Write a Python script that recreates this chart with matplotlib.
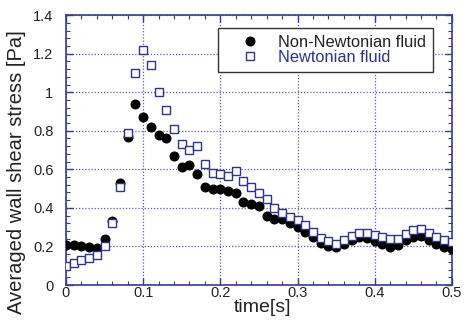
import matplotlib
matplotlib.use("Agg")
import matplotlib.pyplot as plt
from matplotlib.ticker import MultipleLocator
import numpy as np

plt.rcParams['font.family'] = ['Liberation Sans', 'DejaVu Sans']

time = [0.00, 0.01, 0.02, 0.03, 0.04, 0.05, 0.06, 0.07, 0.08, 0.09,
        0.10, 0.11, 0.12, 0.13, 0.14, 0.15, 0.16, 0.17, 0.18, 0.19,
        0.20, 0.21, 0.22, 0.23, 0.24, 0.25, 0.26, 0.27, 0.28, 0.29,
        0.30, 0.31, 0.32, 0.33, 0.34, 0.35, 0.36, 0.37, 0.38, 0.39,
        0.40, 0.41, 0.42, 0.43, 0.44, 0.45, 0.46, 0.47, 0.48, 0.49, 0.50]

non_newtonian = [0.21, 0.21, 0.205, 0.195, 0.19, 0.24, 0.33, 0.53, 0.77, 0.94,
                 0.87, 0.82, 0.78, 0.76, 0.67, 0.61, 0.62, 0.575, 0.51, 0.50,
                 0.50, 0.49, 0.475, 0.43, 0.42, 0.41, 0.36, 0.34, 0.34, 0.32,
                 0.30, 0.276, 0.25, 0.216, 0.205, 0.195, 0.212, 0.233, 0.247, 0.242,
                 0.23, 0.212, 0.195, 0.207, 0.233, 0.247, 0.254, 0.233, 0.212, 0.198, 0.185]

newtonian = [0.098, 0.112, 0.13, 0.138, 0.155, 0.20, 0.32, 0.51, 0.79, 1.10,
             1.22, 1.14, 1.00, 0.91, 0.81, 0.73, 0.70, 0.72, 0.63, 0.58,
             0.575, 0.565, 0.59, 0.54, 0.51, 0.475, 0.445, 0.40, 0.375, 0.354,
             0.337, 0.31, 0.276, 0.245, 0.23, 0.212, 0.233, 0.254, 0.268, 0.268,
             0.259, 0.25, 0.237, 0.237, 0.264, 0.285, 0.289, 0.268, 0.247, 0.233, 0.224]

x_ticks = [0, 0.1, 0.2, 0.3, 0.4, 0.5]
x_tick_labels = ['0', '0.1', '0.2', '0.3', '0.4', '0.5']
y_ticks = [0, 0.2, 0.4, 0.6, 0.8, 1.0, 1.2, 1.4]
y_tick_labels = ['0', '0.2', '0.4', '0.6', '0.8', '1', '1.2', '1.4']

navy = '#3b3b8c'
grid_c = '#5a5ab0'

fig = plt.figure(figsize=(4.71, 3.21), dpi=100)
ax = fig.add_axes([0.140, 0.112, 0.8195, 0.841])

ax.plot(time, non_newtonian, linestyle='none', marker='o', markersize=6.2,
        markerfacecolor='black', markeredgecolor='black', label='Non-Newtonian fluid', zorder=3)
ax.plot(time, newtonian, linestyle='none', marker='s', markersize=6.0,
        markerfacecolor='white', markeredgecolor='#2e3488', markeredgewidth=1.0,
        label='Newtonian fluid', zorder=4)

ax.set_xlim(0, 0.5)
ax.set_ylim(0, 1.4)
ax.xaxis.set_minor_locator(MultipleLocator(0.02))
ax.yaxis.set_minor_locator(MultipleLocator(0.04))
ax.set_xticks(x_ticks)
ax.set_xticklabels(x_tick_labels)
ax.set_yticks(y_ticks)
ax.set_yticklabels(y_tick_labels)

ax.tick_params(which='both', direction='in', top=True, right=True, color=navy,
               labelsize=10.5, labelcolor='#222222')
ax.tick_params(which='major', length=5, width=1.0)
ax.tick_params(which='minor', length=3, width=0.8)
ax.tick_params(axis='y', which='major', pad=9)
ax.tick_params(axis='x', which='major', pad=0.5)
for s in ax.spines.values():
    s.set_color(navy)
    s.set_linewidth(1.2)

ax.grid(True, which='major', linestyle=(0, (1, 1.5)), color=grid_c, linewidth=0.9)
ax.set_axisbelow(True)

ax.set_xlabel('time[s]', fontsize=14, color='#222222')
ax.set_ylabel('Averaged wall shear stress [Pa]', fontsize=14.5, color='#222222')
ax.xaxis.set_label_coords(0.508, -0.052)
ax.yaxis.set_label_coords(-0.104, 0.418)

leg = ax.legend(loc='upper right', bbox_to_anchor=(0.951, 0.952), fontsize=11.8,
                frameon=True, fancybox=False, borderpad=0.42, handletextpad=0.15,
                labelspacing=0.0, borderaxespad=0, handlelength=3.1)
leg.get_frame().set_edgecolor('#333333')
leg.get_frame().set_linewidth(1.0)
leg.get_frame().set_alpha(1)
texts = leg.get_texts()
texts[0].set_color('#222222')
texts[1].set_color('#2e3488')

fig.savefig('out.png', dpi=100)
